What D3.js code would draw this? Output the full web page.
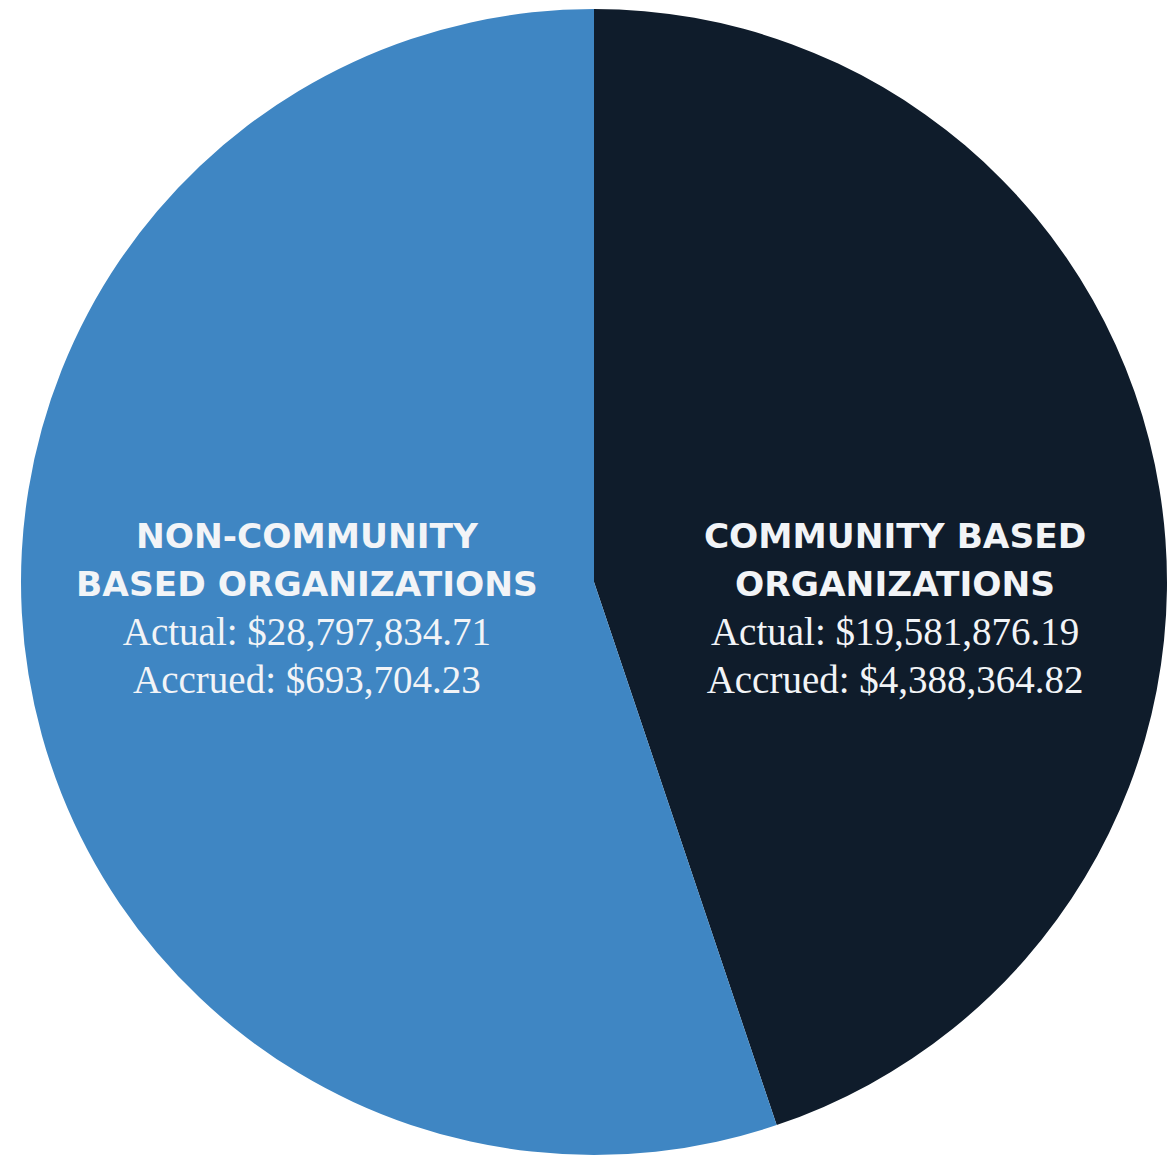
<!DOCTYPE html>
<html>
<head>
<meta charset="utf-8">
<script src="https://cdn.jsdelivr.net/npm/d3@7.9.0/dist/d3.min.js"></script>
<style>
  html, body { margin: 0; padding: 0; background: #fff; }
  svg { display: block; }
</style>
</head>
<body>
<div id="chart"></div>
<script>
// data
const categories = ['Community Based Organizations', 'Non-Community Based Organizations'];
const headings = [['COMMUNITY BASED', 'ORGANIZATIONS'], ['NON-COMMUNITY', 'BASED ORGANIZATIONS']];
const actual = [19581876.19, 28797834.71];
const accrued = [4388364.82, 693704.23];
const colors = ['#0f1c2b', '#3f86c3'];

const width = 1176;
const height = 1155;
const cx = 594, cy = 582;
const radius = 573;

const slices = categories.map((name, i) => ({
  name,
  heading: headings[i],
  actual: actual[i],
  accrued: accrued[i],
  total: actual[i] + accrued[i],
  color: colors[i]
}));

const fmt = d3.format(',.2f');

const svg = d3.select('#chart')
  .append('svg')
  .attr('width', width)
  .attr('height', height);

const g = svg.append('g').attr('transform', `translate(${cx}, ${cy})`);

const pie = d3.pie().sort(null).value(d => d.total);
const arc = d3.arc().innerRadius(0).outerRadius(radius);
const labelArc = d3.arc().innerRadius(298).outerRadius(298);

const arcs = pie(slices);

g.selectAll('path')
  .data(arcs)
  .join('path')
  .attr('d', arc)
  .attr('fill', d => d.data.color);

// labels sit on the slice's horizontal centroid, all on the same row
const labels = g.selectAll('g.label')
  .data(arcs)
  .join('g')
  .attr('class', 'label')
  .attr('transform', d => `translate(${labelArc.centroid(d)[0] + 7}, 0)`)
  .attr('text-anchor', 'middle')
  .attr('fill', '#f2f4f7');

labels.each(function(d) {
  const el = d3.select(this);
  d.data.heading.forEach((line, i) => {
    el.append('text')
      .attr('y', -34 + i * 48)
      .style('font-family', '"DejaVu Sans", sans-serif')
      .style('font-weight', 'bold')
      .style('font-size', '34.4px')
      .text(line);
  });
  el.append('text')
    .attr('y', 63)
    .style('font-family', '"Liberation Serif", serif')
    .style('font-size', '39px')
    .text(`Actual: $${fmt(d.data.actual)}`);
  el.append('text')
    .attr('y', 111)
    .style('font-family', '"Liberation Serif", serif')
    .style('font-size', '39px')
    .text(`Accrued: $${fmt(d.data.accrued)}`);
});
</script>
</body>
</html>
